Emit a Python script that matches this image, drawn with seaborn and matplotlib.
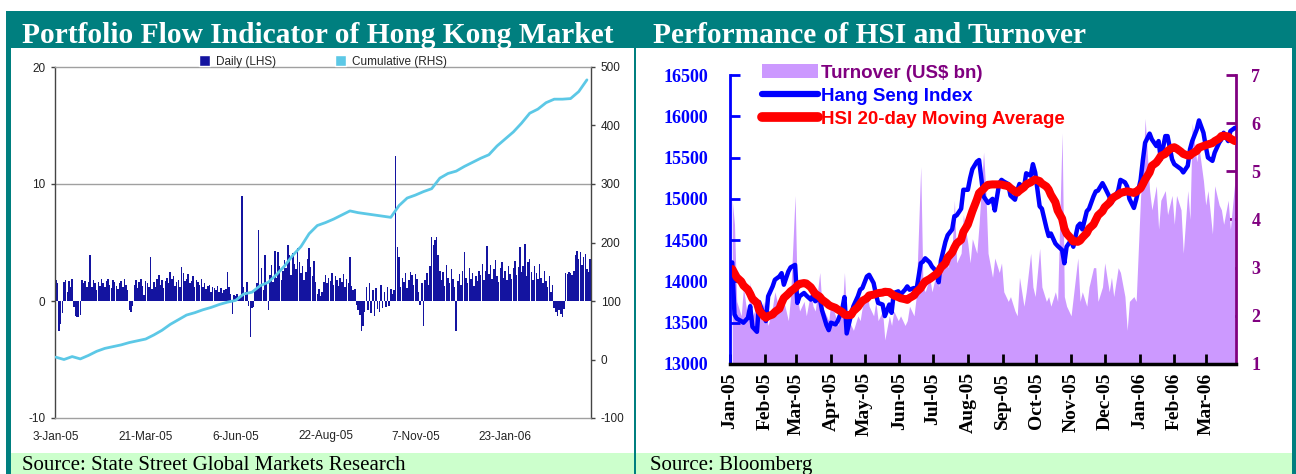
import numpy as np
import pandas as pd
import matplotlib
matplotlib.use("Agg")
import matplotlib.pyplot as plt
import seaborn as sns
from matplotlib.patches import Rectangle, Patch
from matplotlib.lines import Line2D
from matplotlib import font_manager

# ---------------- data: left chart (portfolio flow) ----------------
daily_flow = [
    1.8, 1.5, -2.6, -2.0, -1.0, 1.6, 1.8, 0.8, 1.7, 1.2, 1.9,
    -0.5, -1.3, -1.4, -1.4, -1.2, 1.8, 1.5, 1.7, 1.2, 1.6, 3.9,
    1.2, 1.8, 1.5, 0.9, 1.6, 1.3, 1.9, 1.5,
    1.2, 1.7, 1.9, 1.4, 1.1, 1.8, 1.6, 1.3, 1.0, 1.5,
    1.7, 1.2, 1.9, 1.4, 0.9, -0.8, -0.9, -0.4,
    1.4, 1.8, 1.1, 1.6, 1.9, 1.3, 0.5, 1.7, 1.5, 1.2, 3.8, 1.0,
    1.6, 1.2, 1.9, 2.2, 1.4, 1.8, 1.1, 1.7, 2.0, 1.5,
    2.5, 1.9, 2.1, 1.3, 1.6, 1.8, 1.2, 2.9, 2.4, 1.7,
    1.9, 2.3, 1.5, 1.7, 2.1, 1.2, 1.8, 1.6, 1.4, 1.9,
    1.2, 1.5, 1.0, 1.3, 1.4, 0.8, 1.2, 1.1, 0.9, 1.3,
    0.8, 1.1, 0.7, 0.9, 1.0, 2.5, 1.2, 0.6, -1.1,
    0.5, 0.4, 0.6, 0.3, 0.5, 9.0, 1.2, 0.8, 1.6, -0.4,
    -3.1, -0.6, -0.5, 1.0, 1.5, 6.1,
    1.2, 2.8, 0.9, 3.9, 1.5, -0.8, 2.2, 3.1, 1.6, 4.3,
    2.0, 4.2, 3.0, 1.8, 2.6, 3.5, 2.8, 4.8, 3.9, 2.2, 4.1, 3.2, 2.7, 4.5, 3.3,
    2.4, 3.0, 1.8, 2.5, 3.6, 4.5, 2.9, 2.1, 3.4, 1.6,
    0.6, 1.0, 0.4, 0.8, 1.6,
    2.2, 1.5, 2.0, 1.7, 2.4, 1.4, 2.1, 1.8, 1.3, 2.0,
    1.6, 2.3, 1.2, 1.9, 1.5, 3.8, 1.3, 0.9, 1.0,
    -0.3, -0.8, -1.2, -2.6, -2.1, -0.9,
    1.2, -0.8, 1.5, -1.0, 0.9, -1.3, 1.1, -0.7, -0.9, 1.4,
    -0.6, 0.8, -0.5, 1.2, -0.4, 1.0, 0.6, 0.9, 12.4,
    4.6, 3.8, 1.2, 2.0, 1.6, 2.4, 1.1, 1.8, 2.5, 2.2, 1.4,
    2.3, 1.9, 0.8, -0.3, 1.5, -2.1, 1.8, 2.4, 1.4, 3.0,
    5.5, 4.8, 5.2, 5.5, 3.9, 2.6,
    1.8, 2.5, 1.3, 3.1, 2.0, 1.5, 2.7, 1.9, 1.2, -2.6,
    1.7, 2.3, 1.4, 2.6, 4.2, 2.0, 1.5, 2.8, 1.9, 2.4, 1.3, 2.1, 1.7, 2.6,
    2.2, 3.2, 1.8, 2.6, 4.7, 2.3, 3.1, 1.9, 2.7, 3.5, 2.1, 1.6, 2.8, 3.3, 2.0,
    2.6, 1.8, 3.0, 2.3, 1.9, 2.8, 3.4, 2.2, 2.9, 4.6,
    2.5, 3.0, 4.9, 2.1, 3.3, 3.6, 2.5, 1.8, 3.0, 2.4,
    1.9, 3.2, 2.0, 1.5, 2.6, 1.7, 1.2, 2.1, 0.8, 1.4,
    -0.6, -0.9, -1.3, -0.8, -1.1, -1.4, -0.7,
    2.4, 2.3, 2.5, 2.4, 2.2, 2.6, 3.9, 4.3, 3.6, 4.2, 3.1, 3.8, 4.0,
    2.7, 2.5, 3.6,
]
# weekly samples (every 5 business days) of the cumulative flow, RHS
cumulative = [
    4, 0, 5, 1, 7, 14, 19, 22, 25, 29, 32, 35, 42, 50, 60, 68, 76, 80, 85, 89,
    94, 98, 101, 112, 115, 126, 132, 145, 160, 178, 193, 215, 229, 234, 240,
    247, 254, 251, 249, 247, 245, 243, 263, 276, 281, 287, 292, 310, 318, 322,
    330, 337, 344, 350, 365, 377, 389, 404, 421, 428, 439, 445, 445, 446, 458, 478,
]
left_tick_labels = ["3-Jan-05", "21-Mar-05", "6-Jun-05", "22-Aug-05", "7-Nov-05", "23-Jan-06"]
left_tick_every = 55
left_series = ["Daily (LHS)", "Cumulative (RHS)"]

# ---------------- data: right chart (HSI & turnover), every 2nd business day ----------------
hsi = [
    14230, 13600, 13550, 13520, 13500, 13560, 13700, 13450, 13390, 13750,
    13600, 13520, 13820, 13940, 14020, 14060, 14100, 13960, 14120, 14170,
    14200, 13740, 13820, 13860, 13830, 13780, 13830, 13760, 13800, 13650,
    13470, 13410, 13500, 13480, 13520, 13660, 13810, 13370, 13600, 13700,
    13820, 13900, 13920, 14060, 14080, 13980, 13850, 13740, 13720, 13580,
    13720, 13620, 13860, 13880, 13840, 13900, 13940, 13900, 13920, 13880,
    14220, 14240, 14280, 14230, 14180, 14120, 13990, 14250, 14480, 14560,
    14630, 14790, 14800, 14880, 15110, 15110, 15250, 15360, 15450, 15470,
    15030, 14990, 14950, 15000, 14860, 15190, 15230, 15210, 15180, 15040,
    14990, 15100, 15180, 15130, 15310, 15280, 15420, 15320, 14910, 14880,
    14650, 14550, 14580, 14460, 14430, 14380, 14220, 14420, 14500, 14420,
    14670, 14700, 14630, 14850, 14880, 15030, 15090, 15100, 15190, 15140,
    15030, 14950, 15000, 15100, 15230, 15200, 15150, 15000, 14890, 14990,
    15230, 15470, 15680, 15790, 15720, 15640, 15700, 15480, 15760, 15760,
    15480, 15420, 15400, 15360, 15320, 15400, 15600, 15700, 15840, 15950,
    15800, 15640, 15500, 15460, 15560, 15680, 15720, 15800, 15700, 15820,
    15860,
]
hsi_ma20 = [
    14150, 14100, 14050, 14000, 13950, 13900, 13850, 13790, 13740, 13650,
    13580, 13560, 13580, 13600, 13630, 13670, 13740, 13800, 13850, 13880,
    13920, 13950, 13970, 13980, 13975, 13930, 13890, 13850, 13815, 13780,
    13740, 13715, 13700, 13680, 13660, 13630, 13600, 13590, 13595, 13640,
    13690, 13730, 13765, 13795, 13830, 13840, 13850, 13858, 13865, 13875,
    13870, 13850, 13830, 13810, 13797, 13785, 13777, 13800, 13830, 13870,
    13920, 13965, 14000, 14030, 14050, 14090, 14120, 14170, 14220, 14290,
    14350, 14410, 14460, 14505, 14600, 14690, 14770, 14850, 14990, 15070,
    15120, 15150, 15170, 15175, 15175, 15175, 15173, 15165, 15155, 15130,
    15090, 15075, 15100, 15140, 15175, 15200, 15220, 15234, 15215, 15185,
    15150, 15113, 15050, 14960, 14860, 14760, 14640, 14580, 14520, 14485,
    14480, 14495, 14530, 14586, 14640, 14690, 14745, 14800, 14850, 14900,
    14950, 14990, 15020, 15050, 15072, 15085, 15092, 15085, 15072, 15085,
    15130, 15180, 15234, 15320, 15400, 15440, 15477, 15520, 15545, 15580,
    15618, 15625, 15610, 15570, 15545, 15525, 15525, 15550, 15580, 15620,
    15640, 15650, 15660, 15675, 15699, 15730, 15760, 15765, 15755, 15730,
    15700,
]
turnover = [
    4.4, 3.9, 2.3, 2.0, 2.6, 1.9, 2.7, 2.0, 2.2, 1.9,
    2.3, 2.0, 1.8, 2.2, 2.5, 2.1, 2.3, 2.3, 1.9, 2.4,
    4.5, 2.4, 2.1, 2.3, 2.0, 2.5, 2.2, 2.1, 2.9, 2.2,
    2.0, 1.9, 2.3, 2.0, 1.8, 2.1, 2.9, 2.0, 1.8, 1.7,
    2.0, 1.9, 2.2, 2.5, 2.2, 2.0, 2.3, 1.9, 2.1, 1.5,
    2.0, 1.8, 2.1, 1.9, 2.0, 1.8, 1.9, 2.2, 2.0, 2.4,
    5.1, 2.6, 2.5, 2.8, 2.5, 2.9, 2.6, 3.3, 3.2, 3.0,
    3.4, 4.4, 3.1, 3.3, 4.1, 3.5, 3.1, 3.6, 3.3, 3.9,
    5.4, 4.6, 3.3, 2.8, 3.2, 2.9, 3.1, 2.5, 2.3, 2.4,
    2.1, 2.0, 2.8, 2.2, 2.5, 3.3, 2.6, 2.4, 3.4, 2.6,
    2.3, 2.4, 2.2, 2.5, 2.3, 5.8, 2.4, 2.2, 2.0, 2.4,
    3.2, 2.3, 2.5, 2.2, 2.6, 3.0, 3.0, 2.3, 2.6, 3.1,
    2.5, 2.8, 2.4, 3.0, 2.9, 2.4, 1.7, 2.3, 2.4, 2.3,
    4.5, 5.0, 6.1, 4.6, 4.2, 4.7, 3.8, 4.4, 4.6, 4.1,
    4.5, 3.9, 4.5, 4.2, 3.3, 4.6, 4.0, 6.0, 5.2, 5.5,
    4.8, 4.3, 4.6, 3.7, 4.7, 4.3, 4.2, 3.9, 4.4, 3.8,
    4.8,
]
right_series = ["Turnover (US$ bn)", "Hang Seng Index", "HSI 20-day Moving Average"]
titles = ["Portfolio Flow Indicator of Hong Kong Market", "Performance of HSI and Turnover"]
sources = ["Source: State Street Global Markets Research", "Source: Bloomberg"]

# ---------------- style ----------------
sns.set_theme(style="white")
plt.rcParams["font.family"] = ["Liberation Sans", "DejaVu Sans"]
names = {f.name for f in font_manager.fontManager.ttflist}
NARROW = "Liberation Sans Narrow" if "Liberation Sans Narrow" in names else "Liberation Sans"
small = 9.5 if NARROW == "Liberation Sans Narrow" else 8.5
SERIF = ["Liberation Serif", "DejaVu Serif"]

TEAL = "#007F7F"
GREEN = "#CCFFCC"
NAVY = "#1414A0"
CYAN = "#5CC8E6"
LILAC = "#CC99FF"
PURPLE = "#800080"

W, H = 1296, 474
fig = plt.figure(figsize=(W / 100, H / 100), dpi=100)
fig.patch.set_facecolor("white")


def band(x0, y0, x1, y1, color):
    fig.patches.append(Rectangle((x0 / W, 1 - y1 / H), (x1 - x0) / W, (y1 - y0) / H,
                                 transform=fig.transFigure, facecolor=color,
                                 edgecolor="none", zorder=0))


band(6, 11, 1296, 48, TEAL)          # header bar
band(6, 11, 11, 474, TEAL)           # left border
band(634, 48, 636, 474, TEAL)        # divider
band(1292, 11, 1296, 474, TEAL)      # right border
band(11, 453, 634, 474, GREEN)       # footers
band(636, 453, 1292, 474, GREEN)

fig.text(22 / W, 1 - 43 / H, titles[0], color="white", fontweight="bold",
         family=SERIF, fontsize=21.2, va="baseline", ha="left")
fig.text(653 / W, 1 - 43 / H, titles[1], color="white", fontweight="bold",
         family=SERIF, fontsize=21.2, va="baseline", ha="left")
fig.text(22 / W, 1 - 470 / H, sources[0], color="black", family=SERIF,
         fontsize=15, va="baseline", ha="left")
fig.text(650 / W, 1 - 470 / H, sources[1], color="black", family=SERIF,
         fontsize=15, va="baseline", ha="left")

# ---------------- left chart ----------------
axL = fig.add_axes([55 / W, 1 - 418 / H, 536 / W, 351 / H])
pos = np.arange(len(daily_flow))
axL.bar(pos, daily_flow, width=0.9, color=NAVY, linewidth=0, zorder=2)
axL.axhline(10, color="#A0A0A0", lw=1, zorder=1)
axL.set_xlim(-0.5, len(daily_flow) - 0.5)
axL.set_ylim(-10, 20)
axL.set_yticks([-10, 0, 10, 20])
axL.set_yticklabels(["-10", "0", "10", "20"], family=NARROW, fontsize=small, color="#222222")
tick_pos = np.arange(len(left_tick_labels)) * left_tick_every
axL.set_xticks(tick_pos)
axL.set_xticklabels(left_tick_labels, family=NARROW, fontsize=small, color="#222222")
axL.tick_params(axis="x", length=0, pad=9)
axL.tick_params(axis="y", direction="out", length=3, width=1, color="#444444", pad=4, left=True)
for s in ["top", "bottom"]:
    axL.spines[s].set_color("#A0A0A0")
    axL.spines[s].set_linewidth(1)
for s in ["left", "right"]:
    axL.spines[s].set_color("#444444")
    axL.spines[s].set_linewidth(1)

axC = axL.twinx()
cum_pos = np.arange(len(cumulative)) * 5
sns.lineplot(x=cum_pos, y=cumulative, ax=axC, color=CYAN, lw=2)
axC.set_ylim(-100, 500)
axC.set_yticks([-100, 0, 100, 200, 300, 400, 500])
axC.set_yticklabels(["-100", "0", "100", "200", "300", "400", "500"], family=NARROW,
                    fontsize=small, color="#222222")
axC.tick_params(axis="y", direction="out", length=3, width=1, color="#444444", pad=4, right=True)
axC.set_ylabel("")
for s in axC.spines.values():
    s.set_visible(False)

axL.legend(handles=[Patch(facecolor=NAVY), Patch(facecolor=CYAN)], labels=left_series,
           loc="lower center", bbox_to_anchor=(0.5, 0.995), ncol=2, frameon=False,
           prop={"family": NARROW, "size": small}, handlelength=0.9, handleheight=1.0,
           handletextpad=0.5, columnspacing=5.0, borderaxespad=0, borderpad=0.1)

# ---------------- right chart ----------------
dates = pd.bdate_range("2005-01-03", periods=len(hsi), freq="2B")
axH = fig.add_axes([730 / W, 1 - 364 / H, 506 / W, 289 / H])
axT = axH.twinx()
axH.set_zorder(axT.get_zorder() + 1)
axH.patch.set_visible(False)

axT.fill_between(dates, 1, turnover, color=LILAC, lw=0)
sns.lineplot(x=dates, y=hsi, ax=axH, color="#0000FF", lw=3.2)
sns.lineplot(x=dates, y=hsi_ma20, ax=axH, color="#FF0000", lw=5.8, solid_capstyle="round")

axH.set_xlim(pd.Timestamp("2005-01-01"), pd.Timestamp("2006-03-28"))
axH.set_ylim(13000, 16500)
axT.set_ylim(1, 7)
axH.set_yticks(np.arange(13000, 16501, 500))
axH.set_yticklabels([str(v) for v in range(13000, 16501, 500)], family=SERIF,
                    fontweight="bold", fontsize=13, color="#0000FF")
axT.set_yticks(np.arange(1, 8))
axT.set_yticklabels([str(v) for v in range(1, 8)], family=SERIF, fontweight="bold",
                    fontsize=13, color=PURPLE)
months = pd.date_range("2005-01-01", "2006-03-01", freq="MS")
axH.set_xticks(months)
axH.set_xticklabels([m.strftime("%b-%y") for m in months], family=SERIF, fontweight="bold",
                    fontsize=14, rotation=90, color="black")
axH.tick_params(axis="y", direction="in", length=7, width=2, color="#0000FF", pad=16, left=True)
axH.tick_params(axis="x", direction="in", length=7, width=2, color="black", pad=6, bottom=True)
axT.tick_params(axis="y", direction="in", length=7, width=2, color=PURPLE, pad=11, right=True)
axH.set_xlabel("")
axH.set_ylabel("")
axT.set_ylabel("")

for s in axH.spines.values():
    s.set_visible(False)
for s in axT.spines.values():
    s.set_visible(False)
axH.spines["left"].set_visible(True)
axH.spines["left"].set_color("#0000FF")
axH.spines["left"].set_linewidth(2)
axH.spines["bottom"].set_visible(True)
axH.spines["bottom"].set_color("black")
axH.spines["bottom"].set_linewidth(2.5)
axT.spines["right"].set_visible(True)
axT.spines["right"].set_color(PURPLE)
axT.spines["right"].set_linewidth(2)

handles = [Patch(facecolor=LILAC, edgecolor="none"),
           Line2D([], [], color="#0000FF", lw=4.5, solid_capstyle="round"),
           Line2D([], [], color="#FF0000", lw=7, solid_capstyle="round")]
leg = fig.legend(handles=handles, labels=right_series, loc="upper left",
                 bbox_to_anchor=(762 / W, 1 - 64 / H), bbox_transform=fig.transFigure,
                 frameon=False, prop={"family": "Liberation Sans", "weight": "bold", "size": 13.5},
                 handlelength=3.0, handleheight=0.8, handletextpad=0.15, labelspacing=0.3,
                 borderpad=0, borderaxespad=0)
for txt, col in zip(leg.get_texts(), [PURPLE, "#0000FF", "#FF0000"]):
    txt.set_color(col)

fig.savefig("out.png", dpi=100)
